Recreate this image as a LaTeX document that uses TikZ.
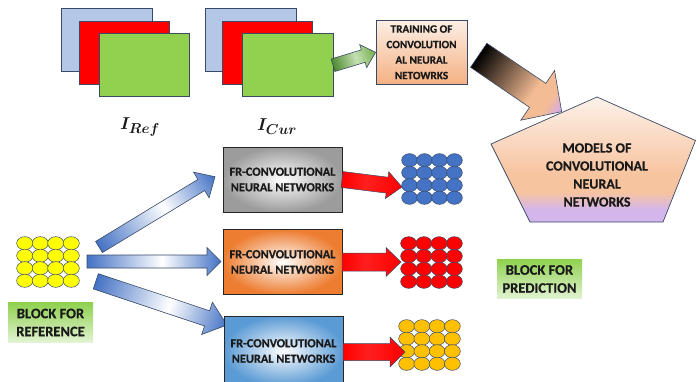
\documentclass[tikz,border=0pt]{standalone}
\usepackage{fontspec}
\setmainfont{Carlito}[BoldFont={Carlito Bold}, BoldFeatures={FakeBold=0.6}]
\usepackage{bm}
\usetikzlibrary{calc}
\definecolor{imgblue}{HTML}{B4C7E7}
\definecolor{imgred}{HTML}{FF0000}
\definecolor{imggreen}{HTML}{92D050}
\definecolor{lineC}{HTML}{3A4A66}
\definecolor{txtC}{HTML}{1A1A1A}
\definecolor{trainTop}{HTML}{FCEEE4}
\definecolor{trainBot}{HTML}{F4B183}
\definecolor{lightP}{HTML}{FDF1E9}
\definecolor{peachP}{HTML}{F7C4A0}
\definecolor{lavA}{HTML}{D4B6EC}
\definecolor{peachA}{HTML}{F4BC94}
\definecolor{lavArr}{HTML}{CFA6F2}
\definecolor{arB}{HTML}{4472C4}
\definecolor{grnDark}{HTML}{4E8A30}
\definecolor{grnLight}{HTML}{C5E0B4}
\definecolor{grnHead}{HTML}{70AD47}
\definecolor{grayO}{HTML}{9C9C9C}
\definecolor{orangeO}{HTML}{ED7D31}
\definecolor{blueO}{HTML}{5B9BD5}
\definecolor{gridY}{HTML}{FFFF00}
\definecolor{gridB}{HTML}{4472C4}
\definecolor{gridR}{HTML}{FF0000}
\definecolor{gridO}{HTML}{FFC000}
\definecolor{blockG}{HTML}{8FD14F}
\definecolor{blockL}{HTML}{E2F3D3}
\pgfdeclarehorizontalshading{bluarrow}{100bp}{color(0bp)=(arB); color(25bp)=(arB); color(53bp)=(white); color(75bp)=(arB); color(100bp)=(arB)}
\pgfdeclarehorizontalshading{blkarrow}{100bp}{color(0bp)=(black); color(25bp)=(black); color(58bp)=(peachA); color(67bp)=(peachA); color(75bp)=(lavArr); color(100bp)=(lavArr)}
\pgfdeclarehorizontalshading{grnarrow}{100bp}{color(0bp)=(grnDark); color(25bp)=(grnDark); color(52bp)=(grnLight); color(75bp)=(grnHead); color(100bp)=(grnHead)}
\pgfdeclarehorizontalshading{redarrow}{100bp}{color(0bp)=(red); color(25bp)=(red); color(45bp)=(red!88!white); color(75bp)=(red); color(100bp)=(red)}
\pgfdeclareverticalshading{pentash}{100bp}{color(0bp)=(lavA); color(25bp)=(lavA); color(30bp)=(lavA); color(37bp)=(peachP); color(44bp)=(peachP); color(75bp)=(lightP); color(100bp)=(lightP)}
\newcommand\blockarrow[6]{%
  \path let \p1=(#1), \p2=(#2) in \pgfextra{%
    \pgfmathsetmacro\tmpang{atan2((\y2)-(\y1),(\x2)-(\x1))}%
    \pgfmathsetmacro\tmplen{veclen((\x2)-(\x1),(\y2)-(\y1))}%
    \xdef\baang{\tmpang}\xdef\balen{\tmplen}%
    \xdef\bax{\x1}\xdef\bay{\y1}};
  \begin{scope}[transform canvas={shift={(\bax,\bay)},rotate=\baang},x=1pt,y=1pt]
    \path[#6] (0,{-#3/2}) -- ({\balen-#5},{-#3/2}) -- ({\balen-#5},{-#4/2}) -- (\balen,0)
      -- ({\balen-#5},{#4/2}) -- ({\balen-#5},{#3/2}) -- (0,{#3/2}) -- cycle;
  \end{scope}}
\newcommand\circgrid[6]{%
  \foreach \i in {0,...,3}{\foreach \j in {0,...,3}{%
    \draw[circline, fill=#5] ({#1+(\i+0.5)*#3},{#2+(\j+0.5)*#4}) ellipse [x radius={#3/2+0.35}, y radius={#4/2+0.35}];}}%
  \coordinate (#6) at ({#1+2*#3},{#2+2*#4});}
\begin{document}
\begin{tikzpicture}[x=1pt,y=-1pt,
  imgrect/.style={draw=lineC, line width=0.7pt, inner sep=0pt, outer sep=0pt, minimum width=90.5pt, minimum height=63pt},
  circline/.style={draw=lineC, line width=0.5pt},
  frbox/.style={draw=black!85, line width=1pt, inner sep=0pt, outer sep=0pt, minimum width=119pt, minimum height=65pt, inner color=white, text=txtC, align=center, font=\fontsize{12.3}{15.5}\selectfont\bfseries},
  blockbox/.style={inner sep=0pt, minimum width=85pt, minimum height=39.5pt, top color=blockG, bottom color=blockL, text=txtC, align=center, font=\fontsize{14.5}{18}\selectfont\bfseries},
  bluearr/.style={shade, shading=bluarrow, draw=lineC, line width=0.6pt},
  redarr/.style={shade, shading=redarrow, draw=lineC, line width=0.5pt},
  ]
\useasboundingbox (0,0) rectangle (697,381);
\clip (0,0) rectangle (697,381);
% image stacks
\node[imgrect, fill=imgblue] (refB) at (106.75,39.5) {};
\node[imgrect, fill=imgred] (refR) at (124.25,52.5) {};
\node[imgrect, fill=imggreen] (refG) at (144.5,65.25) {};
\node[imgrect, fill=imgblue] (curB) at (250.75,39.5) {};
\node[imgrect, fill=imgred] (curR) at (267.25,52.5) {};
\node[imgrect, fill=imggreen] (curG) at (287.75,65.25) {};
\node[text=txtC] (iref) at (140,127) {\fontsize{19}{20}\selectfont$\bm{I_{Ref}}$};
\node[text=txtC] (icur) at (277,127) {\fontsize{19}{20}\selectfont$\bm{I_{Cur}}$};
% training box
\node[draw=lineC, line width=0.7pt, inner sep=0pt, minimum width=91pt, minimum height=63.3pt, top color=trainTop, bottom color=trainBot, text=txtC, align=center, font=\fontsize{11.2}{15.5}\selectfont\bfseries] (train) at (421.5,52.3) {TRAINING OF\\CONVOLUTION\\AL NEURAL\\NETOWRKS};
\coordinate (gT) at (curG.east);
\coordinate (gH) at (train.west);
\blockarrow{gT}{gH}{13}{24}{13}{shade, shading=grnarrow, draw=lineC, line width=0.6pt}
% pentagon
\path[shade, shading=pentash, draw=lineC, line width=0.7pt] (597,97) -- (695.5,140.5) -- (663,222) -- (530,222) -- (491,144) -- cycle;
\node[text=txtC, align=center, font=\fontsize{14}{18}\selectfont\bfseries] (models) at (597,175) {MODELS OF\\CONVOLUTIONAL\\NEURAL\\NETWORKS};
\coordinate (kT) at (478.7,55.3);
\coordinate (kH) at (561.7,111.7);
\blockarrow{kT}{kH}{29}{60}{29}{shade, shading=blkarrow, draw=lineC, line width=0.6pt}
% reference grid
\circgrid{17}{237}{15.5}{12.5}{gridY}{gref}
\node[blockbox] (bref) at (50.5,322.5) {BLOCK FOR\\REFERENCE};
\node[blockbox] (bpred) at (539.5,279) {BLOCK FOR\\PREDICTION};
% blue arrows
\coordinate (b1T) at (99,247);
\coordinate (b1H) at (215,176.7);
\coordinate (b2T) at (87,261.5);
\coordinate (b2H) at (221,261.5);
\coordinate (b3T) at (95.8,281.3);
\coordinate (b3H) at (227,325);
\blockarrow{b1T}{b1H}{13}{30}{16}{bluearr}
\blockarrow{b2T}{b2H}{13}{28}{14}{bluearr}
\blockarrow{b3T}{b3H}{16}{34}{21}{bluearr}
% FR boxes
\node[frbox, outer color=grayO] (fr1) at (282.5,179.5) {FR-CONVOLUTIONAL\\NEURAL NETWORKS};
\node[frbox, outer color=orangeO] (fr2) at (282.5,262) {FR-CONVOLUTIONAL\\NEURAL NETWORKS};
\node[frbox, outer color=blueO, minimum height=70pt] (fr3) at (283.5,351) {FR-CONVOLUTIONAL\\NEURAL NETWORKS};
% output grids
\circgrid{402}{154}{15}{12.5}{gridB}{gout1}
\circgrid{401}{237}{15.25}{12.75}{gridR}{gout2}
\circgrid{399}{320}{15.25}{12.5}{gridO}{gout3}
% red arrows
\coordinate (r1T) at (fr1.east);
\coordinate (r1H) at (402,187);
\coordinate (r2T) at (fr2.east);
\coordinate (r2H) at (401,262);
\coordinate (r3T) at (343,352);
\coordinate (r3H) at (405,352);
\blockarrow{r1T}{r1H}{16}{27}{15}{redarr}
\blockarrow{r2T}{r2H}{18}{29}{15}{redarr}
\blockarrow{r3T}{r3H}{17}{30}{15}{redarr}
\end{tikzpicture}
\end{document}
